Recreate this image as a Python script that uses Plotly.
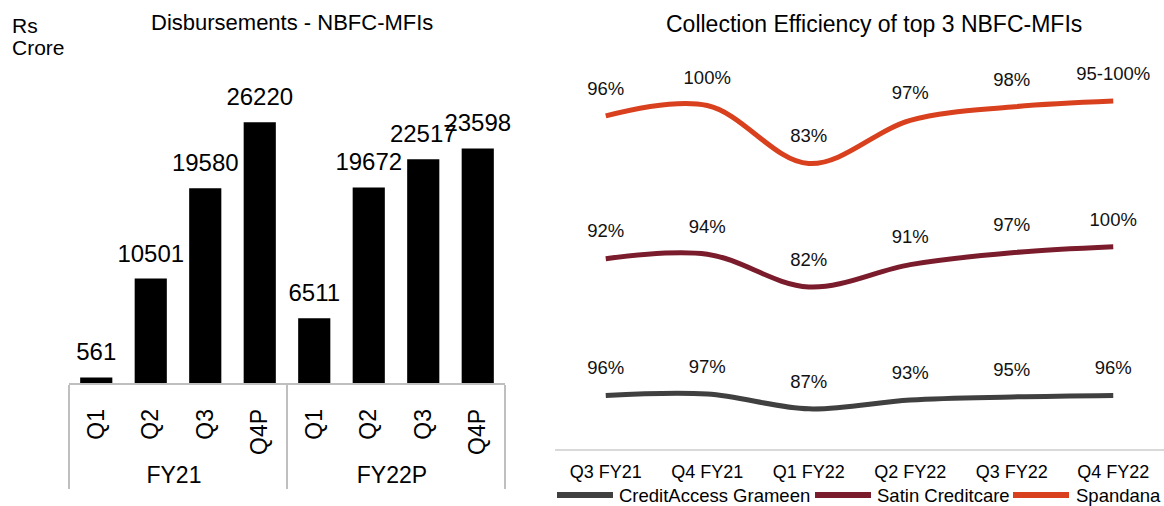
import plotly.graph_objects as go

# ---- data: left chart (Disbursements - NBFC-MFIs, Rs Crore) ----
fy_groups = ["FY21", "FY21", "FY21", "FY21", "FY22P", "FY22P", "FY22P", "FY22P"]
quarters = ["Q1", "Q2", "Q3", "Q4P", "Q1", "Q2", "Q3", "Q4P"]
disbursements = [561, 10501, 19580, 26220, 6511, 19672, 22517, 23598]

# ---- data: right chart (Collection efficiency, %) ----
periods = ["Q3 FY21", "Q4 FY21", "Q1 FY22", "Q2 FY22", "Q3 FY22", "Q4 FY22"]
creditaccess = [96, 97, 87, 93, 95, 96]
satin = [92, 94, 82, 91, 97, 100]
spandana = [96, 100, 83, 97, 98, 98]
creditaccess_labels = ["96%", "97%", "87%", "93%", "95%", "96%"]
satin_labels = ["92%", "94%", "82%", "91%", "97%", "100%"]
spandana_labels = ["96%", "100%", "83%", "97%", "98%", "95-100%"]

W, H = 1164, 506
FONT = "Arial, Liberation Sans, sans-serif"


def px(x):
    return x / W


def py(y):
    return 1 - y / H


fig = go.Figure()

# bars
fig.add_trace(go.Bar(
    x=[fy_groups, quarters], y=disbursements,
    marker=dict(color="#000000", line=dict(width=0)),
    xaxis="x", yaxis="y", showlegend=False, hoverinfo="skip",
))
# bar value labels
fig.add_trace(go.Scatter(
    x=[fy_groups, quarters], y=disbursements,
    mode="markers+text", text=[str(v) for v in disbursements],
    textposition="top center",
    textfont=dict(family=FONT, size=24, color="#000000"),
    marker=dict(size=16, opacity=0),
    xaxis="x", yaxis="y", showlegend=False, hoverinfo="skip", cliponaxis=False,
))

series = [
    ("CreditAccess Grameen", creditaccess, creditaccess_labels, "#404040"),
    ("Satin Creditcare", satin, satin_labels, "#7B1C2C"),
    ("Spandana", spandana, spandana_labels, "#D8401E"),
]

for name, vals, labels, color in series:
    fig.add_trace(go.Scatter(
        x=periods, y=vals, name=name, mode="lines",
        stackgroup="lines", fill="none",
        line=dict(color=color, width=5, shape="spline", smoothing=1),
        xaxis="x2", yaxis="y2", hoverinfo="skip", showlegend=False,
    ))

for name, vals, labels, color in series:
    fig.add_trace(go.Scatter(
        x=periods, y=vals, mode="markers+text",
        stackgroup="labels", fill="none",
        text=labels, textposition="top center",
        textfont=dict(family=FONT, size=18.5, color="#111111"),
        marker=dict(size=25, opacity=0),
        line=dict(width=0),
        xaxis="x2", yaxis="y2", showlegend=False, hoverinfo="skip", cliponaxis=False,
    ))

# legend drawn as line samples + labels (matching the long, thick keys)
legend_key_x = [557, 815, 1013]
legend_text_x = [617, 875, 1074]
legend_y = 495
shapes = []
annotations = []
for (name, vals, labels, color), kx, tx in zip(series, legend_key_x, legend_text_x):
    shapes.append(dict(
        type="line", xref="paper", yref="paper",
        x0=px(kx), x1=px(kx + 56), y0=py(legend_y), y1=py(legend_y),
        line=dict(color=color, width=6),
    ))
    annotations.append(dict(
        text=name, x=px(tx), y=py(legend_y), xref="paper", yref="paper",
        xanchor="left", yanchor="middle", showarrow=False,
        font=dict(family=FONT, size=18.5, color="#000000"),
    ))

annotations += [
    dict(text="Rs", x=px(10), y=py(25), xref="paper", yref="paper",
         xanchor="left", yanchor="middle", showarrow=False,
         font=dict(family=FONT, size=21, color="#000000")),
    dict(text="Crore", x=px(10), y=py(47), xref="paper", yref="paper",
         xanchor="left", yanchor="middle", showarrow=False,
         font=dict(family=FONT, size=21, color="#000000")),
    dict(text="Disbursements - NBFC-MFIs", x=px(291.5), y=py(23),
         xref="paper", yref="paper", xanchor="center", yanchor="middle",
         showarrow=False, font=dict(family=FONT, size=22, color="#000000")),
    dict(text="Collection Efficiency of top 3 NBFC-MFIs", x=px(874), y=py(24),
         xref="paper", yref="paper", xanchor="center", yanchor="middle",
         showarrow=False, font=dict(family=FONT, size=23, color="#000000")),
]

fig.update_layout(
    width=W, height=H,
    margin=dict(l=0, r=0, t=0, b=0, autoexpand=False),
    paper_bgcolor="white", plot_bgcolor="white",
    font=dict(family=FONT, color="#000000"),
    bargap=0.41,
    showlegend=False,
    xaxis=dict(
        domain=[px(69), px(505)], anchor="y", type="multicategory",
        range=[-0.5, 7.5], automargin=False,
        showline=True, linecolor="#BFBFBF", linewidth=1.5,
        showdividers=True, dividercolor="#BFBFBF", dividerwidth=1.5,
        tickangle=-90, ticks="", showgrid=False, zeroline=False,
        ticklabelstandoff=15,
        tickfont=dict(family=FONT, size=23, color="#000000"),
    ),
    yaxis=dict(
        domain=[py(383), py(84.8)], anchor="x", range=[0, 30000],
        visible=False, showgrid=False, zeroline=False, automargin=False,
    ),
    xaxis2=dict(
        domain=[px(555), 1.0], anchor="y2", type="category",
        range=[-0.5, 5.5], automargin=False,
        showline=True, linecolor="#D9D9D9", linewidth=1.5,
        ticks="", showgrid=False, zeroline=False,
        ticklabelstandoff=6,
        tickfont=dict(family=FONT, size=18, color="#000000"),
    ),
    yaxis2=dict(
        domain=[py(449), py(62.4)], anchor="x2", range=[60, 320],
        visible=False, showgrid=False, zeroline=False, automargin=False,
    ),
    shapes=shapes,
    annotations=annotations,
)

fig.write_html(
    "out.html",
    config={"displayModeBar": False},
    post_script="document.body.style.margin='0';document.body.style.padding='0';"
                "document.body.style.overflow='hidden';",
)
